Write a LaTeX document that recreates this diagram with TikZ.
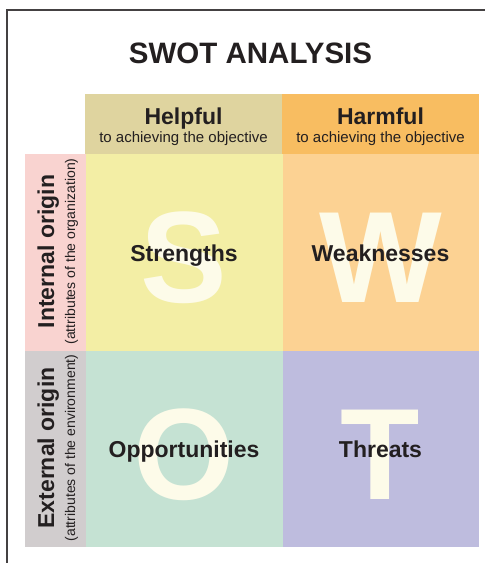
\documentclass[tikz,border=0pt]{standalone}
\usepackage{fontspec}
\setmainfont{Liberation Sans}

\definecolor{ink}{HTML}{231F20}
\definecolor{helpcol}{HTML}{DFD49F}
\definecolor{harmcol}{HTML}{F8BD61}
\definecolor{intcol}{HTML}{F9D3D0}
\definecolor{extcol}{HTML}{D1CDCE}
\definecolor{strcol}{HTML}{F3EEA5}
\definecolor{weakcol}{HTML}{FCD293}
\definecolor{oppcol}{HTML}{C5E2D3}
\definecolor{thrcol}{HTML}{BEBCDE}
\definecolor{lettercol}{HTML}{FDFBE9}

\begin{document}
\begin{tikzpicture}[x=1pt,y=-1pt,
    head/.style={font=\bfseries\fontsize{23}{23}\selectfont, text=ink, anchor=base, inner sep=0pt},
    sub/.style={font=\fontsize{14}{14}\selectfont, text=ink, anchor=base, inner sep=0pt},
    bigletter/.style={font=\bfseries\fontsize{130}{130}\selectfont, text=lettercol, anchor=base, inner sep=0pt}]
    \useasboundingbox (0,0) rectangle (485,563);
    \draw[line width=1.3pt, ink!85] (7,580) -- (7,10) -- (500,10);

    \node[font=\bfseries\fontsize{29.5}{29.5}\selectfont, text=ink, anchor=base] (title) at (250.5,63) {SWOT ANALYSIS};

    % column heads
    \foreach \x/\col/\name/\lbl in {
        85/helpcol/help/Helpful,
        282/harmcol/harm/Harmful
  } {
    \fill[\col] (\x,94) rectangle ++(197,59.5);
    \node[head] (\name) at (\x+98.5,124) {\lbl};
    \node[sub, font=\fontsize{15}{15}\selectfont] (\name-sub) at (\x+98.5,142) {to achieving the objective};
  }

    % row heads
    \foreach \y/\col/\name/\lbl/\txt in {
        154/intcol/int/Internal origin/(attributes of the organization),
        350.5/extcol/ext/External origin/(attributes of the environment)
  } {
    \fill[\col] (25,\y) rectangle ++(61,196.5);
    \node[head, rotate=90] (\name) at (54,\y+97.5) {\lbl};
    \node[sub, rotate=90] (\name-sub) at (75,\y+97.5) {\txt};
  }

    % the four fields
    \foreach \x/\y/\col/\big/\name/\lbl in {
        86/154/strcol/S/str/Strengths,
        282.5/154/weakcol/W/weak/Weaknesses,
        86/350.5/oppcol/O/opp/Opportunities,
        282.5/350.5/thrcol/T/thr/Threats
  } {
    \fill[\col] (\x,\y) rectangle ++(196.5,196.5);
    \node[bigletter] (\name-big) at (\x+98,\y+148.5) {\big};
    \node[head] (\name) at (\x+98,\y+107) {\lbl};
  }
\end{tikzpicture}
\end{document}
